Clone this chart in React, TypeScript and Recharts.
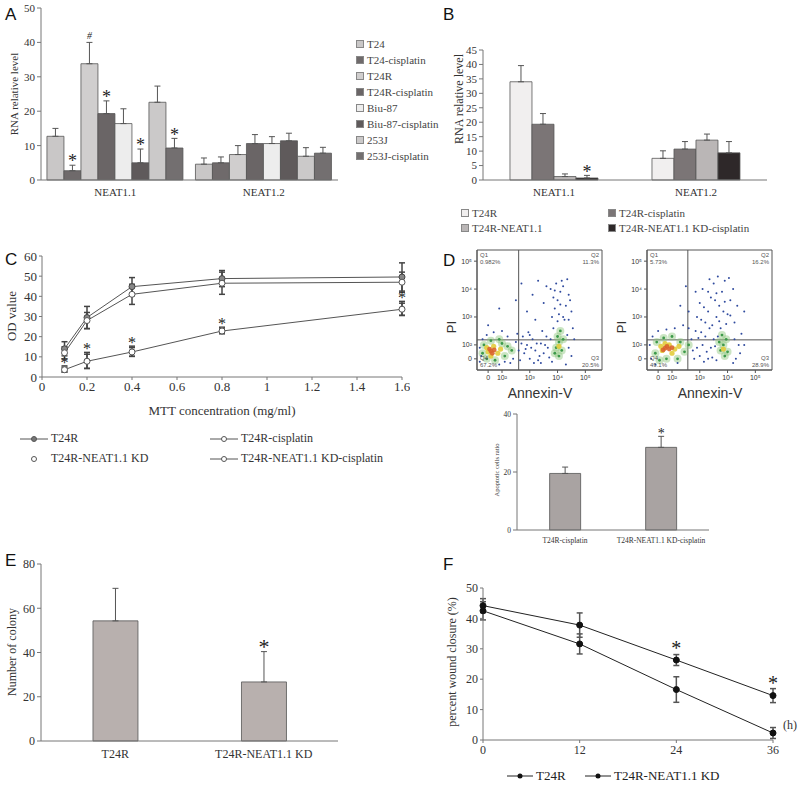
import React from "react";
import {
  Bar,
  BarChart,
  ErrorBar,
  LabelList,
  Line,
  LineChart,
  ReferenceArea,
  ReferenceLine,
  Scatter,
  ScatterChart,
  XAxis,
  YAxis,
} from "recharts";

const serif = "'Liberation Serif', 'Times New Roman', serif";
const sans = "'Liberation Sans', Arial, sans-serif";
const axisColor = "#777";
const textColor = "#333";

// A: RNA relative level in sensitive / resistant lines
const genesA = ["NEAT1.1", "NEAT1.2"];
const seriesA = ["T24", "T24-cisplatin", "T24R", "T24R-cisplatin", "Biu-87", "Biu-87-cisplatin", "253J", "253J-cisplatin"];
const colorsA = ["#c9c7c7", "#6f6a6b", "#d0cece", "#6a6566", "#ededed", "#5f5a5b", "#cbc9c9", "#736f70"];
const valuesA = [[12.7, 4.6], [2.7, 5.0], [33.8, 7.4], [19.3, 10.6], [16.4, 10.6], [5.0, 11.4], [22.6, 6.9], [9.3, 7.8]];
const errorsA = [[2.3, 1.8], [1.6, 1.7], [6.2, 2.6], [3.7, 2.6], [4.3, 2.0], [4.0, 2.2], [4.7, 2.5], [2.8, 1.7]];
const marksA = [["", ""], ["*", ""], ["#", ""], ["*", ""], ["", ""], ["*", ""], ["", ""], ["*", ""]];
const ticksA = [0, 10, 20, 30, 40, 50];

// B: knockdown
const genesB = ["NEAT1.1", "NEAT1.2"];
const seriesB = ["T24R", "T24R-cisplatin", "T24R-NEAT1.1", "T24R-NEAT1.1 KD-cisplatin"];
const colorsB = ["#f1efef", "#7b7576", "#bab6b6", "#2e2829"];
const valuesB = [[34, 7.5], [19.3, 10.7], [1.2, 13.8], [0.7, 9.4]];
const errorsB = [[5.6, 2.6], [3.7, 2.6], [0.9, 2.1], [0.9, 3.9]];
const marksB = [["", ""], ["", ""], ["", ""], ["*", ""]];
const ticksB = [0, 5, 10, 15, 20, 25, 30, 35, 40, 45];

// C: MTT
const doseC = [0.1, 0.2, 0.4, 0.8, 1.6];
const t24rC = [14, 29.5, 44.8, 48.8, 49.6];
const t24rErrC = [3.5, 5.5, 4.5, 4, 7];
const cisC = [12, 28, 41, 46.5, 47];
const cisErrC = [3, 4, 5, 5.5, 5];
const kdC = [4, 8.2, 12.8, 23.2, 34];
const kdErrC = [1.5, 4, 2.5, 1.5, 3.5];
const kdCisC = [3.6, 7.8, 12.4, 22.8, 33.6];
const kdCisErrC = [1.2, 3.5, 2.2, 1.4, 3];
const marksC = ["*", "*", "*", "*", "*"];
const ticksCx = [0, 0.2, 0.4, 0.6, 0.8, 1, 1.2, 1.4, 1.6];
const ticksCy = [0, 10, 20, 30, 40, 50, 60];

// D: flow cytometry (hand-read dot clouds, log-decade units) + apoptosis ratio
const flowTickPos = [0.5, 1, 2, 3, 4];
const flowTickLabels = ["0", "10²", "10³", "10⁴", "10⁵"];
const quadLeft = ["0.982%", "11.3%", "67.2%", "20.5%"];
const quadRight = ["5.73%", "16.2%", "49.1%", "28.9%"];
const blueL = [
  [0.2, 0.4], [0.3, 1.2], [0.45, 1.35], [1.2, 1.3], [1.4, 0.5], [1.5, 1.1], [0.9, 0.3], [0.2, 0.9], [1.6, 0.8], [1.3, 0.35],
  [1.8, 0.7], [1.9, 1.0], [2.0, 0.5], [2.1, 1.2], [2.2, 0.8], [2.3, 0.45], [2.4, 1.05], [2.5, 0.7], [2.6, 1.3], [2.7, 0.55],
  [1.75, 1.3], [2.05, 0.9], [2.35, 0.6], [2.55, 1.0], [2.15, 0.35], [1.95, 1.45], [2.45, 1.5],
  [1.65, 0.45], [1.7, 1.05], [1.85, 0.85], [2.0, 1.35], [2.25, 1.05], [2.4, 0.35], [2.65, 0.9], [2.75, 1.2], [1.55, 1.4],
  [2.8, 0.4], [3.5, 0.6], [3.6, 1.2], [3.3, 0.3], [3.55, 1.6], [2.85, 1.6], [3.4, 1.9], [3.4, 0.9], [3.35, 1.35],
  [2.8, 2.0], [2.9, 2.3], [3.0, 2.6], [3.1, 2.9], [3.2, 3.1], [2.95, 3.2], [3.3, 2.4], [3.4, 2.8], [3.05, 2.1], [2.85, 2.7],
  [3.25, 1.9], [3.5, 2.2], [3.15, 3.3], [2.75, 3.0], [3.35, 3.35], [3.0, 1.85], [3.45, 2.6], [3.1, 2.45], [2.9, 2.95], [3.2, 2.0],
  [2.1, 2.8], [2.3, 3.3], [1.9, 2.2], [2.5, 2.5], [1.7, 3.2], [2.2, 1.9], [1.5, 2.6], [2.6, 3.1], [0.5, 1.7], [0.9, 2.3],
  [0.7, 1.45], [1.0, 1.5], [0.25, 0.6], [1.1, 0.4],
];
const greenL = [
  [0.3, 0.7], [0.35, 1.0], [0.6, 1.15], [0.9, 1.2], [1.1, 0.6], [1.2, 0.95], [0.75, 0.45], [0.45, 0.5], [1.35, 0.8], [1.0, 1.05],
  [2.95, 0.9], [3.05, 1.1], [3.15, 0.8], [3.0, 1.3], [3.1, 1.5], [2.9, 0.7], [3.2, 1.2], [3.05, 0.6],
];
const yellowL = [[0.5, 0.75], [0.7, 0.95], [0.85, 0.7], [0.6, 0.6], [0.95, 0.85], [0.45, 0.9], [3.05, 0.95]];
const redL = [[0.6, 0.78], [0.72, 0.82], [0.65, 0.7], [0.55, 0.85]];
const blueR = [
  [0.25, 0.5], [0.3, 1.3], [0.5, 1.5], [1.6, 1.6], [1.8, 0.5], [0.4, 0.3], [1.2, 0.35], [1.7, 1.2], [0.2, 1.0], [1.4, 1.7],
  [2.0, 0.6], [2.1, 1.0], [2.2, 1.3], [2.3, 0.5], [2.4, 0.9], [2.5, 1.2], [1.9, 0.9], [2.6, 0.45], [2.05, 1.45], [2.35, 1.6],
  [1.75, 0.8], [1.95, 1.25], [2.15, 0.4], [2.25, 0.75], [2.45, 0.55], [2.55, 0.95], [1.85, 1.5], [2.65, 1.3],
  [3.3, 0.5], [3.4, 1.0], [3.5, 1.4], [3.2, 0.35], [3.45, 0.7], [3.25, 1.2], [3.6, 1.0],
  [1.9, 2.0], [2.0, 2.5], [2.1, 3.0], [2.2, 1.8], [2.3, 2.2], [2.4, 2.7], [2.5, 3.2], [2.6, 2.0], [2.7, 2.4], [2.8, 2.9],
  [2.9, 3.3], [3.0, 2.1], [3.1, 2.6], [3.2, 3.0], [3.25, 1.8], [2.45, 1.7], [2.75, 1.6], [2.15, 2.35], [2.55, 2.6], [2.85, 2.2],
  [3.05, 3.4], [2.65, 3.45], [2.35, 3.35], [1.85, 2.9], [3.35, 2.4], [2.95, 1.75], [2.6, 2.85], [2.9, 2.55], [2.3, 2.9],
  [2.05, 1.9], [3.1, 2.05], [2.7, 1.85],
  [1.3, 2.4], [1.5, 3.1], [3.6, 2.2], [1.6, 2.2], [1.1, 1.6], [0.8, 1.55],
];
const greenR = [
  [0.4, 0.7], [0.45, 1.1], [0.7, 1.25], [1.0, 1.3], [1.3, 1.1], [1.45, 0.75], [1.2, 0.5], [0.8, 0.5], [1.6, 1.0], [0.55, 0.45],
  [2.75, 0.8], [2.85, 1.0], [2.95, 1.2], [3.0, 0.75], [2.7, 1.1], [2.9, 0.6], [2.8, 1.35],
];
const yellowR = [[0.65, 0.8], [0.9, 1.0], [1.1, 0.85], [0.75, 1.05], [1.25, 0.95], [0.6, 0.95], [2.85, 0.85], [1.0, 0.7]];
const redR = [[0.75, 0.88], [0.9, 0.85], [0.82, 0.95], [1.0, 0.9], [0.68, 0.82]];

const groupsD = ["T24R-cisplatin", "T24R-NEAT1.1 KD-cisplatin"];
const apoD = [19.5, 28.5];
const apoErrD = [2.2, 3.8];
const marksD = ["", "*"];

// E: colony formation
const groupsE = ["T24R", "T24R-NEAT1.1 KD"];
const colonyE = [54.3, 26.7];
const colonyErrE = [14.7, 13.7];
const marksE = ["", "*"];

// F: wound closure
const hoursF = [0, 12, 24, 36];
const t24rF = [44.2, 37.8, 26.3, 14.6];
const t24rErrF = [2.3, 4, 1.8, 2.3];
const kdF = [42.5, 31.6, 16.6, 2.3];
const kdErrF = [3, 3.3, 4.2, 1.8];
const marksF = ["", "", "*", "*"];

const tickStyle = (size: number, family = serif) => ({ fill: textColor, fontSize: size, fontFamily: family });

function Letter({ x, y, children }: any) {
  return (
    <div style={{ position: "absolute", left: x, top: y, font: `17px ${sans}`, color: "#111", zIndex: 5, lineHeight: "18px" }}>{children}</div>
  );
}

function Txt({ x, y, size, family = serif, rotate = false, children, color = textColor }: any) {
  return (
    <div
      style={{
        position: "absolute",
        left: x,
        top: y,
        transform: `translate(-50%, -50%)${rotate ? " rotate(-90deg)" : ""}`,
        whiteSpace: "nowrap",
        fontSize: size,
        fontFamily: family,
        color,
        lineHeight: 1,
        zIndex: 4,
      }}
    >
      {children}
    </div>
  );
}

function Swatch({ x, y, color, label, size = 11 }: any) {
  return (
    <div style={{ position: "absolute", left: x, top: y - 7, display: "flex", alignItems: "center", whiteSpace: "nowrap", fontFamily: serif, fontSize: size, color: "#444" }}>
      <span style={{ width: 6, height: 6, background: color, border: "1px solid #888", marginRight: 3, display: "inline-block" }} />
      {label}
    </div>
  );
}

const Star = ({ x, y, size, mark }: any) => (
  <text x={x} y={y} textAnchor="middle" fontSize={size} fontFamily={serif} fontStyle={mark === "#" ? "italic" : "normal"}
    fill="#222" stroke="none" style={{ fill: "#222", stroke: "none" }}>
    {mark}
  </text>
);

const starContent = (marks: string[], errs: number[], size: number) => (p: any) => {
  const m = marks[p.index];
  if (!m) return <g />;
  const v = Number(p.value);
  const top = p.y - (errs[p.index] * p.height) / v;
  const fs = m === "#" ? size * 0.55 : size;
  return <Star x={p.x + p.width / 2} y={top + (m === "#" ? -3 : fs * 0.12)} size={fs} mark={m} />;
};

function GroupedBars(props: any) {
  const { left, top, width, height, margin, yWidth, xHeight, ticks, categories, series, colors, values, errors, marks, gap, fontSize, starSize } = props;
  const rows = categories.map((c: string, ci: number) => {
    const r: any = { cat: c };
    series.forEach((_: string, si: number) => {
      r[`s${si}`] = values[si][ci];
      r[`e${si}`] = [0, errors[si][ci]];
    });
    return r;
  });
  return (
    <div style={{ position: "absolute", left, top }}>
      <BarChart width={width} height={height} data={rows} margin={margin} barCategoryGap={gap} barGap={0}>
        <XAxis dataKey="cat" height={xHeight} stroke={axisColor} tickLine={false} tick={tickStyle(fontSize)} />
        <YAxis width={yWidth} domain={[ticks[0], ticks[ticks.length - 1]]} ticks={ticks} stroke={axisColor} tickSize={4} tick={tickStyle(fontSize)} interval={0} />
        {series.map((s: string, si: number) => (
          <Bar key={s} dataKey={`s${si}`} fill={colors[si]} stroke="#555" strokeWidth={0.8} isAnimationActive={false}>
            <ErrorBar dataKey={`e${si}`} width={3} stroke="#555" strokeWidth={1} direction="y" />
            <LabelList dataKey={`s${si}`} content={starContent(marks[si], errors[si], starSize)} />
          </Bar>
        ))}
      </BarChart>
    </div>
  );
}

function SingleBars(props: any) {
  const { left, top, width, height, margin, yWidth, xHeight, ticks, categories, values, errors, marks, gap, fontSize, starSize, color } = props;
  const rows = categories.map((c: string, i: number) => ({ cat: c, v: values[i], e: [0, errors[i]] }));
  return (
    <div style={{ position: "absolute", left, top }}>
      <BarChart width={width} height={height} data={rows} margin={margin} barCategoryGap={gap}>
        <XAxis dataKey="cat" height={xHeight} stroke={axisColor} tickLine={false} tick={tickStyle(fontSize)} />
        <YAxis width={yWidth} domain={[ticks[0], ticks[ticks.length - 1]]} ticks={ticks} stroke={axisColor} tickSize={4} tick={tickStyle(fontSize)} interval={0} />
        <Bar dataKey="v" fill={color} stroke="#555" strokeWidth={0.8} isAnimationActive={false}>
          <ErrorBar dataKey="e" width={3} stroke="#555" strokeWidth={1} direction="y" />
          <LabelList dataKey="v" content={starContent(marks, errors, starSize)} />
        </Bar>
      </BarChart>
    </div>
  );
}

const lineStar = (marks: string[], size: number) => (p: any) => {
  const m = marks[p.index];
  if (!m) return <g />;
  return <Star x={p.x} y={p.y + size * 0.5} size={size} mark={m} />;
};

function FlowPlot({ left, top, qx, blue, green, yellow, red }: any) {
  const toPts = (a: number[][]) => a.map(([u, v]) => ({ u, v }));
  const dot = (r: number, fill: string, op = 1) => (p: any) => <circle cx={p.cx} cy={p.cy} r={r} fill={fill} fillOpacity={op} />;
  return (
    <div style={{ position: "absolute", left, top }}>
      <ScatterChart width={170} height={165} margin={{ top: 10, right: 8, bottom: 0, left: 0 }}>
        <XAxis type="number" dataKey="u" domain={[0.1, 4.6]} ticks={flowTickPos} height={35} stroke="#555" tickSize={3}
          tick={tickStyle(7, sans)} tickFormatter={(v: number) => flowTickLabels[flowTickPos.indexOf(v)]} />
        <YAxis type="number" dataKey="v" domain={[0.1, 4.4]} ticks={flowTickPos} width={37} stroke="#555" tickSize={3}
          tick={tickStyle(7, sans)} tickFormatter={(v: number) => flowTickLabels[flowTickPos.indexOf(v)]} />
        <Scatter data={toPts(green)} shape={dot(4, "#8cc67a", 0.45)} isAnimationActive={false} />
        <Scatter data={toPts(blue)} shape={dot(1, "#2f4a9e")} isAnimationActive={false} />
        <Scatter data={toPts(green)} shape={dot(1.4, "#3d9a4a")} isAnimationActive={false} />
        <Scatter data={toPts(yellow)} shape={dot(2.6, "#e2cc3c", 0.9)} isAnimationActive={false} />
        <Scatter data={toPts(red)} shape={dot(2.4, "#d9642c", 0.9)} isAnimationActive={false} />
        <ReferenceLine x={qx} stroke="#555" strokeWidth={1} />
        <ReferenceLine y={1.18} stroke="#555" strokeWidth={1} />
        <ReferenceArea x1={0.1} x2={4.6} y1={0.1} y2={4.4} fill="none" stroke="#555" strokeWidth={1} />
      </ScatterChart>
    </div>
  );
}

function QuadLabels({ x0, labels }: any) {
  const s = { position: "absolute" as const, fontFamily: sans, fontSize: 6, color: "#555", lineHeight: "7px", whiteSpace: "nowrap" as const, zIndex: 4 };
  return (
    <>
      <div style={{ ...s, left: x0 + 3, top: 252 }}>Q1<br />{labels[0]}</div>
      <div style={{ ...s, left: x0 + 104, top: 252, textAlign: "right", width: 18 }}>Q2<br />{labels[1]}</div>
      <div style={{ ...s, left: x0 + 3, top: 355 }}>Q4<br />{labels[2]}</div>
      <div style={{ ...s, left: x0 + 104, top: 355, textAlign: "right", width: 18 }}>Q3<br />{labels[3]}</div>
    </>
  );
}

export default function App() {
  const rowsC = doseC.map((d, i) => ({
    dose: d,
    a: t24rC[i], ae: t24rErrC[i],
    b: cisC[i], be: cisErrC[i],
    c: kdC[i], ce: kdErrC[i],
    d: kdCisC[i], de: kdCisErrC[i],
    star: kdC[i] + kdErrC[i] + 3,
  }));
  const rowsF = hoursF.map((h, i) => ({
    h,
    a: t24rF[i], ae: t24rErrF[i],
    b: kdF[i], be: kdErrF[i],
    star: t24rF[i] + t24rErrF[i] + 3,
  }));

  return (
    <div style={{ position: "fixed", left: 0, top: 0, width: 800, height: 785, background: "#fff", overflow: "hidden" }}>
      {/* A */}
      <GroupedBars left={0} top={0} width={340} height={200} margin={{ top: 8, right: 2, bottom: 0, left: 0 }}
        yWidth={41} xHeight={20} ticks={ticksA} categories={genesA} series={seriesA} colors={colorsA}
        values={valuesA} errors={errorsA} marks={marksA} gap="4%" fontSize={11} starSize={18} />
      <Txt x={14} y={94} size={11} rotate>RNA relative  level</Txt>
      {seriesA.map((s, i) => (
        <Swatch key={s} x={356} y={45 + i * 16} color={colorsA[i]} label={s} />
      ))}

      {/* B */}
      <GroupedBars left={440} top={40} width={335} height={160} margin={{ top: 10, right: 8, bottom: 0, left: 0 }}
        yWidth={43} xHeight={20} ticks={ticksB} categories={genesB} series={seriesB} colors={colorsB}
        values={valuesB} errors={errorsB} marks={marksB} gap="19%" fontSize={11} starSize={18} />
      <Txt x={459} y={99} size={12} rotate>RNA relative  level</Txt>
      <Swatch x={461} y={214} color={colorsB[0]} label={seriesB[0]} />
      <Swatch x={608} y={214} color={colorsB[1]} label={seriesB[1]} />
      <Swatch x={461} y={229} color={colorsB[2]} label={seriesB[2]} />
      <Swatch x={608} y={229} color={colorsB[3]} label={seriesB[3]} />

      {/* C */}
      <div style={{ position: "absolute", left: 0, top: 245 }}>
        <LineChart width={410} height={150} data={rowsC} margin={{ top: 11, right: 8, bottom: 0, left: 0 }}>
          <XAxis type="number" dataKey="dose" domain={[0, 1.6]} ticks={ticksCx} height={18} stroke={axisColor} tickSize={3} tick={tickStyle(13)} interval={0} />
          <YAxis domain={[0, 60]} ticks={ticksCy} width={42} stroke={axisColor} tickSize={3} tick={tickStyle(13)} interval={0} />
          <Line dataKey="a" stroke="#555" strokeWidth={1} isAnimationActive={false} dot={{ r: 3, fill: "#888", stroke: "#444", strokeWidth: 1 }}>
            <ErrorBar dataKey="ae" width={3} stroke="#444" direction="y" />
          </Line>
          <Line dataKey="b" stroke="#555" strokeWidth={1} isAnimationActive={false} dot={{ r: 3, fill: "#fff", stroke: "#555", strokeWidth: 1 }}>
            <ErrorBar dataKey="be" width={3} stroke="#444" direction="y" />
          </Line>
          <Line dataKey="c" stroke="none" isAnimationActive={false} dot={{ r: 2.5, fill: "#fff", stroke: "#777", strokeWidth: 1 }}>
            <ErrorBar dataKey="ce" width={3} stroke="#444" direction="y" />
          </Line>
          <Line dataKey="d" stroke="#555" strokeWidth={1} isAnimationActive={false} dot={{ r: 3, fill: "#fff", stroke: "#555", strokeWidth: 1 }}>
            <ErrorBar dataKey="de" width={3} stroke="#444" direction="y" />
          </Line>
          <Line dataKey="star" stroke="none" dot={false} activeDot={false} isAnimationActive={false}>
            <LabelList dataKey="star" content={lineStar(marksC, 16)} />
          </Line>
        </LineChart>
      </div>
      <Txt x={11} y={316} size={13} rotate>OD value</Txt>
      <Txt x={222} y={410} size={13}>MTT concentration  (mg/ml)</Txt>
      {[
        { x: 20, y: 439, label: "T24R", fill: "#777", line: true },
        { x: 210, y: 439, label: "T24R-cisplatin", fill: "#fff", line: true },
        { x: 20, y: 459, label: "T24R-NEAT1.1 KD", fill: "#fff", line: false },
        { x: 210, y: 459, label: "T24R-NEAT1.1 KD-cisplatin", fill: "#fff", line: true },
      ].map((e) => (
        <div key={e.label} style={{ position: "absolute", left: e.x, top: e.y - 8, display: "flex", alignItems: "center", fontFamily: serif, fontSize: 12, color: "#333", whiteSpace: "nowrap" }}>
          <svg width={28} height={10} style={{ marginRight: 3 }}>
            {e.line && <line x1={0} y1={5} x2={28} y2={5} stroke="#555" strokeWidth={1} />}
            <circle cx={14} cy={5} r={2.5} fill={e.fill} stroke="#555" strokeWidth={1} />
          </svg>
          {e.label}
        </div>
      ))}

      {/* D */}
      <FlowPlot left={440} top={240} qx={1.6} blue={blueL} green={greenL} yellow={yellowL} red={redL} />
      <FlowPlot left={610} top={240} qx={1.57} blue={blueR} green={greenR} yellow={yellowR} red={redR} />
      <QuadLabels x0={477} labels={quadLeft} />
      <QuadLabels x0={647} labels={quadRight} />
      <Txt x={451} y={327} size={13} family={sans} rotate>PI</Txt>
      <Txt x={621} y={327} size={13} family={sans} rotate>PI</Txt>
      <Txt x={540} y={393} size={14} family={sans}>Annexin-V</Txt>
      <Txt x={710} y={393} size={14} family={sans}>Annexin-V</Txt>
      <SingleBars left={480} top={405} width={240} height={145} margin={{ top: 9, right: 11, bottom: 0, left: 0 }}
        yWidth={37} xHeight={20} ticks={[0, 20, 40]} categories={groupsD} values={apoD} errors={apoErrD}
        marks={marksD} gap="34%" fontSize={7.5} starSize={14} color="#a9a3a2" />
      <Txt x={497} y={470} size={6.5} rotate>Apoptotic cells ratio</Txt>

      {/* E */}
      <SingleBars left={0} top={555} width={345} height={205} margin={{ top: 9, right: 7, bottom: 0, left: 0 }}
        yWidth={41} xHeight={19} ticks={[0, 20, 40, 60, 80]} categories={groupsE} values={colonyE} errors={colonyErrE}
        marks={marksE} gap="35%" fontSize={12} starSize={22} color="#b8b0ae" />
      <Txt x={12} y={652} size={12} rotate>Number of colony</Txt>

      {/* F */}
      <div style={{ position: "absolute", left: 440, top: 578 }}>
        <LineChart width={345} height={180} data={rowsF} margin={{ top: 10, right: 12, bottom: 0, left: 0 }}>
          <XAxis type="number" dataKey="h" domain={[0, 36]} ticks={hoursF} height={18} stroke={axisColor} tickSize={3} tick={tickStyle(12)} interval={0} />
          <YAxis domain={[0, 50]} ticks={[0, 10, 20, 30, 40, 50]} width={43} stroke={axisColor} tickSize={3} tick={tickStyle(12)} interval={0} />
          <Line dataKey="a" stroke="#222" strokeWidth={1} isAnimationActive={false} dot={{ r: 3, fill: "#111", stroke: "#111" }}>
            <ErrorBar dataKey="ae" width={3} stroke="#555" direction="y" />
          </Line>
          <Line dataKey="b" stroke="#222" strokeWidth={1} isAnimationActive={false} dot={{ r: 3, fill: "#111", stroke: "#111" }}>
            <ErrorBar dataKey="be" width={3} stroke="#555" direction="y" />
          </Line>
          <Line dataKey="star" stroke="none" dot={false} activeDot={false} isAnimationActive={false}>
            <LabelList dataKey="star" content={lineStar(marksF, 20)} />
          </Line>
        </LineChart>
      </div>
      <Txt x={452} y={662} size={12} rotate>percent wound closure (%)</Txt>
      <Txt x={790} y={725} size={12}>(h)</Txt>
      {[
        { x: 507, label: "T24R" },
        { x: 585, label: "T24R-NEAT1.1 KD" },
      ].map((e) => (
        <div key={e.label} style={{ position: "absolute", left: e.x, top: 769, display: "flex", alignItems: "center", fontFamily: serif, fontSize: 13, color: "#222", whiteSpace: "nowrap", lineHeight: "14px" }}>
          <svg width={26} height={10} style={{ marginRight: 3 }}>
            <line x1={0} y1={5} x2={26} y2={5} stroke="#222" strokeWidth={1} />
            <circle cx={13} cy={5} r={2.5} fill="#111" />
          </svg>
          {e.label}
        </div>
      ))}

      <Letter x={5} y={6}>A</Letter>
      <Letter x={443} y={6}>B</Letter>
      <Letter x={5} y={251}>C</Letter>
      <Letter x={443} y={252}>D</Letter>
      <Letter x={5} y={552}>E</Letter>
      <Letter x={443} y={556}>F</Letter>
    </div>
  );
}
